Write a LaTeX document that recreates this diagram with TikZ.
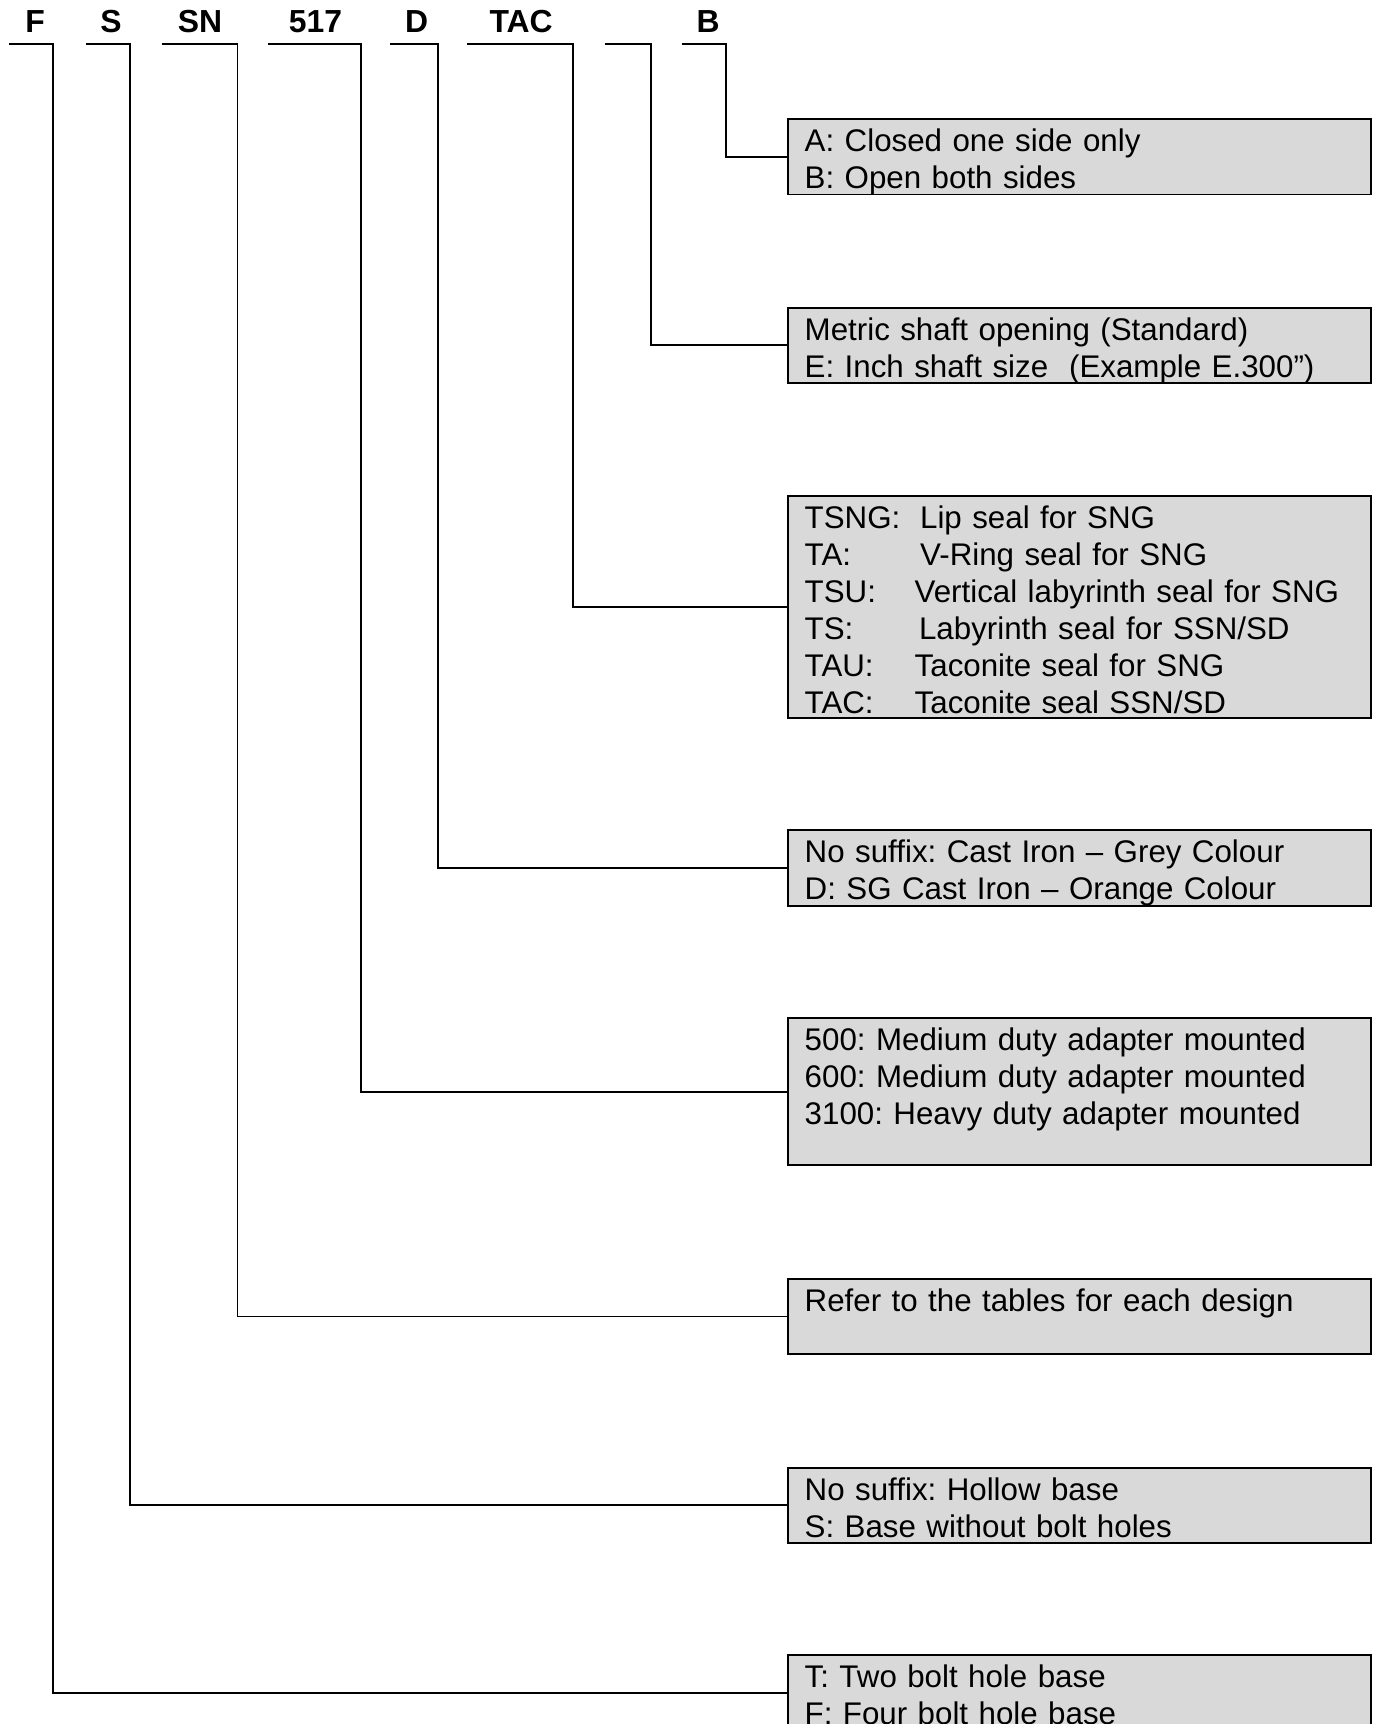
\documentclass[tikz,border=0pt]{standalone}
\usepackage{fontspec}
\setmainfont{Liberation Sans}
\usepackage{tikz}
\usetikzlibrary{positioning}
\frenchspacing
\definecolor{boxgrey}{RGB}{217,217,217}

\tikzset{
  codelabel/.style={font=\fontsize{16.5}{19.2}\selectfont\bfseries, anchor=base, inner sep=0pt},
  infobox/.style={draw, fill=boxgrey, line width=1pt, anchor=north west,
    text width=10cm, align=left, inner xsep=0.3cm, inner ysep=0pt,
    text height=0.59cm, font=\fontsize{16.2}{19.2}\selectfont},
  leader/.style={line width=1pt},
}

\begin{document}
\begin{tikzpicture}
            \useasboundingbox (0,0) rectangle (25.04,-31.36);
            \clip (0,0) rectangle (25.04,-31.36);

            % Code letters
            \node[codelabel] (cF) at (0.64,-0.60) {F};
            \node[codelabel] (cS) at (2.02,-0.60) {S};
            \node[codelabel] (cSN) at (3.64,-0.60) {SN};
            \node[codelabel] (c517) at (5.74,-0.60) {517};
            \node[codelabel] (cD) at (7.58,-0.60) {D};
            \node[codelabel] (cTAC) at (9.48,-0.60) {TAC};
            \node[codelabel] (cB) at (12.88,-0.60) {B};

            % Bar starts under the letters
            \coordinate (barF) at (0.16,-0.8);
            \coordinate (barS) at (1.56,-0.8);
            \coordinate (barSN) at (2.94,-0.8);
            \coordinate (bar517) at (4.88,-0.8);
            \coordinate (barD) at (7.10,-0.8);
            \coordinate (barTAC) at (8.50,-0.8);
            \coordinate (barE) at (11.00,-0.8);
            \coordinate (barB) at (12.40,-0.8);

            % Open / closed box
            \node[infobox, text depth=0.79cm] (boxB) at (14.32,-2.14)
              {A: Closed one side only\\B: Open both sides};

            % Shaft box
            \node[infobox, text depth=0.78cm] (boxE) at (14.32,-5.58)
              {Metric shaft opening (Standard)\\E: Inch shaft size\ \ (Example E.300”)};

            % Seal box
            \node[infobox, text depth=3.45cm] (boxTAC) at (14.32,-9.00)
              {\makebox[2.10cm][l]{TSNG:}Lip seal for SNG\\
               \makebox[2.10cm][l]{TA:}V-Ring seal for SNG\\
               \makebox[2.00cm][l]{TSU:}Vertical labyrinth seal for SNG\\
               \makebox[2.08cm][l]{TS:}Labyrinth seal for SSN/SD\\
               \makebox[2.00cm][l]{TAU:}Taconite seal for SNG\\
               \makebox[2.00cm][l]{TAC:}Taconite seal SSN/SD};

            % Material box
            \node[infobox, text depth=0.79cm] (boxD) at (14.32,-15.08)
              {No suffix: Cast Iron – Grey Colour\\D: SG Cast Iron – Orange Colour};

            % Series box
            \node[infobox, text depth=2.09cm] (box517) at (14.32,-18.50)
              {500: Medium duty adapter mounted\\600: Medium duty adapter mounted\\3100: Heavy duty adapter mounted};

            % Size box
            \node[infobox, text depth=0.79cm] (boxSN) at (14.32,-23.24)
              {Refer to the tables for each design};

            % Base box
            \node[infobox, text depth=0.78cm] (boxS) at (14.32,-26.68)
              {No suffix: Hollow base\\S: Base without bolt holes};

            % Bolt hole box
            \node[infobox, text depth=0.79cm] (boxF) at (14.32,-30.08)
              {T: Two bolt hole base\\F: Four bolt hole base};

            % Leaders
            \draw[leader] (barB) -- ++(0.80,0) |- (boxB.west);
            \draw[leader] (barE) -- ++(0.84,0) |- (boxE.west);
            \draw[leader] (barTAC) -- ++(1.92,0) |- (boxTAC.west);
            \draw[leader] (barD) -- ++(0.86,0) |- (boxD.west);
            \draw[leader] (bar517) -- ++(1.68,0) |- (box517.west);
            \draw[leader] (barSN) -- ++(1.38,0) |- (boxSN.west);
            \draw[leader] (barS) -- ++(0.80,0) |- (boxS.west);
            \draw[leader] (barF) -- ++(0.80,0) |- (boxF.west);
        \end{tikzpicture}
\end{document}
